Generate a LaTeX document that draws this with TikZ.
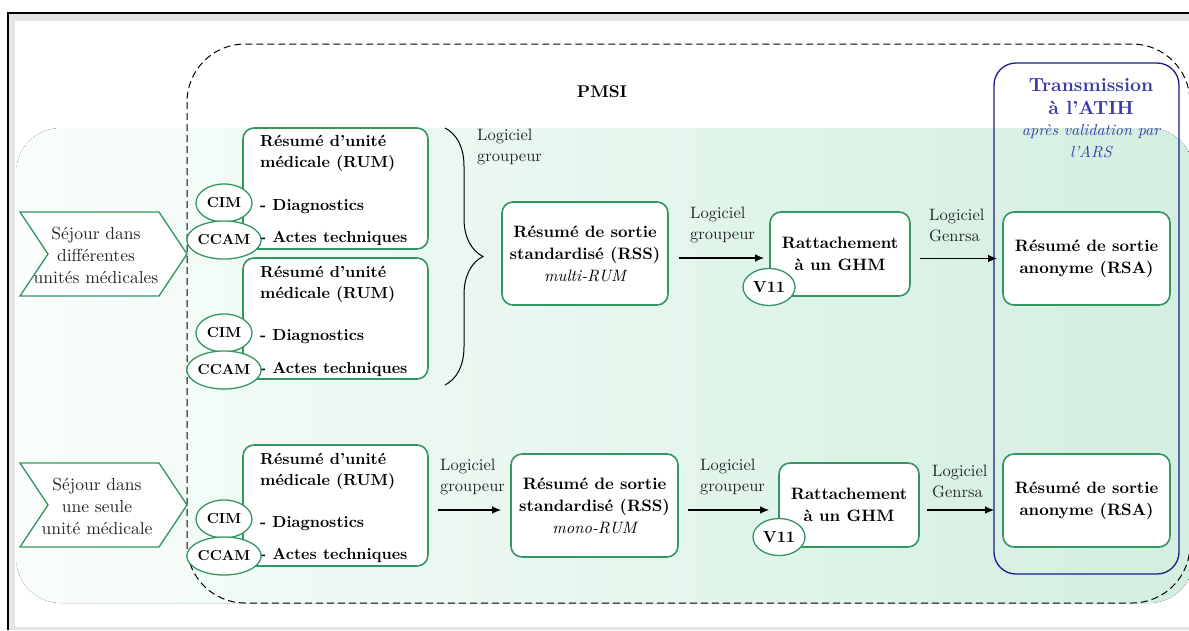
\documentclass[tikz,border=0pt]{standalone}
\usepackage{fontspec}
\setmainfont{lmroman10}[Extension=.otf,UprightFont=*-regular,BoldFont=*-bold,ItalicFont=*-italic,BoldItalicFont=*-bolditalic]
\usetikzlibrary{arrows.meta,decorations.pathreplacing,shapes.geometric}
\definecolor{gbord}{RGB}{52,150,96}
\definecolor{navyb}{RGB}{28,28,140}
\definecolor{bluetxt}{RGB}{58,58,168}
\definecolor{panL}{RGB}{249,253,251}
\definecolor{panR}{RGB}{210,239,224}
\definecolor{framegray}{RGB}{228,228,228}
\begin{document}
\begin{tikzpicture}[x=1pt,y=-1pt,
  box/.style={draw=gbord,line width=1.6pt,rounded corners=11pt,fill=white,inner sep=0pt,align=center,font=\fontsize{16.5}{22}\selectfont\bfseries},
  bt/.style={font=\fontsize{16}{21}\selectfont\bfseries,inner sep=0pt,anchor=west,align=left},
  ell/.style={ellipse,draw=gbord,line width=1.3pt,fill=white,inner sep=0pt,minimum width=56pt,minimum height=38pt,font=\fontsize{14.5}{16}\selectfont\bfseries},
  vell/.style={ell,minimum width=52pt,minimum height=37pt,font=\fontsize{16}{18}\selectfont\bfseries},
  lbl/.style={font=\fontsize{16.5}{21}\selectfont,text=black!85,inner sep=0pt,anchor=west,align=left},
  chevtxt/.style={font=\fontsize{17.5}{22}\selectfont,text=black!85,align=center,inner sep=0pt},
  chev/.style={draw=gbord,line width=1.3pt,fill=white},
  arr/.style={-{Latex[length=9pt,width=7.5pt]},line width=1.3pt},
]
\useasboundingbox (0,0) rectangle (1189,630);
\clip (0,0) rectangle (1189,630);
% outer frame
\fill[framegray] (8,13) rectangle (1189,630);
\fill[white] (15,21) rectangle (1189,627);
\draw[line width=1.8pt] (8,630) -- (8,13) -- (1189,13);
% green panel
\fill[left color=panL,right color=panR,rounded corners=45pt] (16,128) rectangle (1194,603);
% PMSI dashed frame
\draw[dash pattern=on 7pt off 4pt,line width=1pt,rounded corners=58pt] (187,44) rectangle (1190,603);
\node[font=\fontsize{17}{20}\selectfont\bfseries] (pmsi) at (602,92) {PMSI};
% ATIH frame
\draw[navyb,line width=1.3pt,rounded corners=22pt] (994,63) rectangle (1179,574);
\node[font=\fontsize{19}{23}\selectfont\bfseries,text=bluetxt,align=center] (trans) at (1091,96.5) {Transmission\\à l’ATIH};
\node[font=\fontsize{16}{22}\selectfont\itshape,text=bluetxt,align=center] (apres) at (1091,141) {après validation par\\l’ARS};
% chevrons
\draw[chev] (20,212) -- (159,212) -- (187,254) -- (159,296) -- (20,296) -- (48,254) -- cycle;
\node[chevtxt] (sej1) at (96,255) {Séjour dans\\différentes\\unités médicales};
\draw[chev] (20,463) -- (159,463) -- (187,505) -- (159,547) -- (20,547) -- (48,505) -- cycle;
\node[chevtxt] (sej2) at (97,506.5) {Séjour dans\\une seule\\unité médicale};
% RUM boxes
\node[box,minimum width=185pt,minimum height=121pt] (rum1) at (335.5,188.5) {};
\node[box,minimum width=185pt,minimum height=121pt] (rum2) at (335.5,318.5) {};
\node[box,minimum width=185pt,minimum height=121pt] (rum3) at (335.5,505.5) {};
\node[bt] (rum1a) at (260,153.5) {Résumé d’unité\\médicale (RUM)};
\node[bt] (rum1b) at (260,207) {- Diagnostics};
\node[bt] (rum1c) at (260,238) {- Actes techniques};
\node[bt] (rum2a) at (260,284.5) {Résumé d’unité\\médicale (RUM)};
\node[bt] (rum2b) at (260,337) {- Diagnostics};
\node[bt] (rum2c) at (260,369) {- Actes techniques};
\node[bt] (rum3a) at (260,471) {Résumé d’unité\\médicale (RUM)};
\node[bt] (rum3b) at (260,524) {- Diagnostics};
\node[bt] (rum3c) at (260,555) {- Actes techniques};
\node[ell] (cim1) at (224,203) {CIM};
\node[ell] (ccam1) at (224,240) {CCAM};
\node[ell] (cim2) at (224,333) {CIM};
\node[ell] (ccam2) at (224,370) {CCAM};
\node[ell] (cim3) at (224,519) {CIM};
\node[ell] (ccam3) at (224,556) {CCAM};
% brace
\coordinate (brt) at (445,128);
\coordinate (brb) at (445,385);
\draw[decorate,decoration={brace,amplitude=38pt},line width=1pt] (brt) -- (brb);
\node[lbl] (lg0) at (477,146.5) {Logiciel\\groupeur};
% top row
\node[box,minimum width=166pt,minimum height=103pt] (rss1) at (585,253.5) {Résumé de sortie\\standardisé (RSS)\\{\mdseries\itshape multi-RUM}};
\node[box,minimum width=140pt,minimum height=84pt] (ratt1) at (840,254) {Rattachement\\à un GHM};
\node[vell] (v1) at (769,287) {V11};
\node[box,minimum width=167pt,minimum height=93pt] (rsa1) at (1086.5,258.5) {Résumé de sortie\\anonyme (RSA)};
\coordinate (a1s) at ([yshift=-4.5pt]rss1.east);
\coordinate (a2s) at ([yshift=-4.5pt]ratt1.east);
\draw[arr,shorten <=10pt,shorten >=5pt] (a1s) -- (a1s -| ratt1.west);
\draw[arr,shorten <=9pt,shorten >=5pt] (a2s) -- (a2s -| rsa1.west);
\node[lbl] (lg1) at (690,225) {Logiciel\\groupeur};
\node[lbl] (lg2) at (929,225) {Logiciel\\Genrsa};
% bottom row
\node[box,minimum width=167pt,minimum height=103pt] (rss2) at (594.5,505.5) {Résumé de sortie\\standardisé (RSS)\\{\mdseries\itshape mono-RUM}};
\node[box,minimum width=140pt,minimum height=84pt] (ratt2) at (849,505) {Rattachement\\à un GHM};
\node[vell] (v2) at (779,537) {V11};
\node[box,minimum width=167pt,minimum height=93pt] (rsa2) at (1086.5,500.5) {Résumé de sortie\\anonyme (RSA)};
\coordinate (a3s) at ([yshift=-4.5pt]rum3.east);
\coordinate (a4s) at ([yshift=-4.5pt]rss2.east);
\coordinate (a5s) at ([yshift=-5pt]ratt2.east);
\draw[arr,shorten <=9pt,shorten >=9pt] (a3s) -- (a3s -| rss2.west);
\draw[arr,shorten <=9pt,shorten >=9pt] (a4s) -- (a4s -| ratt2.west);
\draw[arr,shorten <=7pt,shorten >=8pt] (a5s) -- (a5s -| rsa2.west);
\node[lbl] (lg3) at (440,477) {Logiciel\\groupeur};
\node[lbl] (lg4) at (700,477) {Logiciel\\groupeur};
\node[lbl] (lg5) at (932,481) {Logiciel\\Genrsa};
\end{tikzpicture}
\end{document}
